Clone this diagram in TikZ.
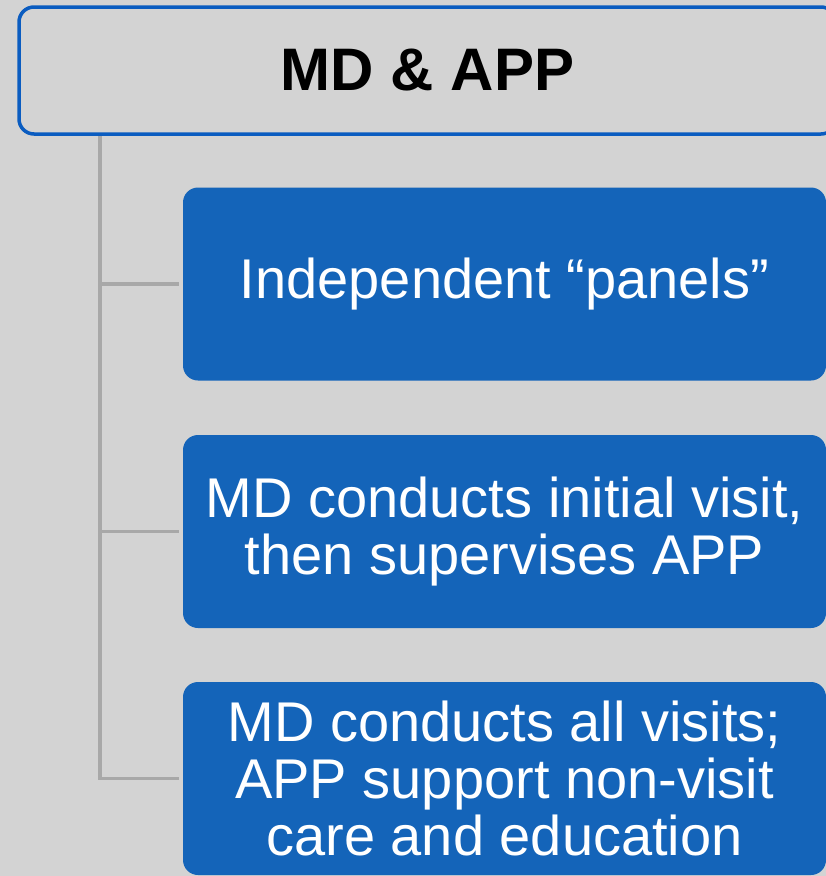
\documentclass[tikz,border=0pt]{standalone}
\usepackage{fontspec}
\setmainfont{Liberation Sans}
\usetikzlibrary{positioning}
\definecolor{bgGray}{RGB}{211,211,211}
\definecolor{rimBlue}{RGB}{10,92,192}
\definecolor{panelBlue}{RGB}{20,100,185}
\definecolor{linkGray}{RGB}{168,168,168}
\tikzset{
  headbox/.style={draw=rimBlue,line width=3.5pt,fill=bgGray,rounded corners=15pt,
    minimum width=817pt,minimum height=127pt,
    font=\fontsize{60}{64}\selectfont\bfseries},
  panel/.style={fill=panelBlue,text=white,rounded corners=15pt,
    minimum width=643pt,minimum height=193pt,align=center,
    font=\fontsize{56}{57}\selectfont},
  link/.style={draw=linkGray,line width=3.5pt,shorten >=4pt}
}
\begin{document}
\begin{tikzpicture}[x=1pt,y=-1pt]
\useasboundingbox (0,0) rectangle (826,876);
\fill[bgGray] (0,0) rectangle (826,876);
\node[headbox] (head) at (427.5,70.5) {MD \& APP};
\node[panel] (p1) at (504.5,284) {Independent “panels”};
\node[panel] (p2) at (504.5,531.5) {MD conducts initial visit,\\then supervises APP};
\node[panel] (p3) at (504.5,778.5) {MD conducts all visits;\\APP support non-visit\\care and education};
% tree connector
\coordinate (spine) at (100,136);
\draw[link] (spine) |- (p3.west);
\foreach \p in {p1,p2} \draw[link] (spine |- \p.west) -- (\p.west);
\end{tikzpicture}
\end{document}
